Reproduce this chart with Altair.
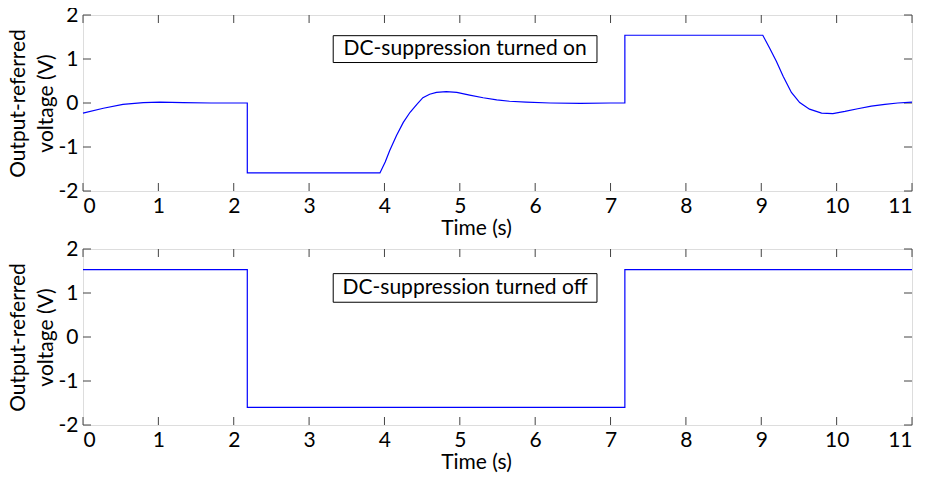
import altair as alt
import pandas as pd

# ---- data ----
top_t = [0, 0.27, 0.53, 0.8, 1.02, 1.33, 1.7, 2.17, 2.18, 2.18,
         3.94, 4.01, 4.07, 4.16, 4.25, 4.34, 4.43, 4.51, 4.6, 4.69, 4.82, 4.96,
         5.13, 5.31, 5.49, 5.66, 5.88, 6.2, 6.6, 7.0, 7.19, 7.19,
         9.02, 9.11, 9.2, 9.29, 9.4, 9.51, 9.64, 9.8, 9.95, 10.11, 10.28, 10.46,
         10.64, 10.81, 11.0]
top_v = [-0.23, -0.12, -0.03, 0.01, 0.02, 0.01, 0.0, 0.0, 0.0, -1.59,
         -1.59, -1.34, -1.08, -0.74, -0.44, -0.21, -0.03, 0.12, 0.2, 0.24, 0.26, 0.24,
         0.18, 0.12, 0.07, 0.04, 0.02, 0.0, -0.01, 0.0, 0.0, 1.54,
         1.54, 1.25, 0.95, 0.61, 0.24, 0.01, -0.14, -0.23, -0.24, -0.19, -0.13, -0.07,
         -0.03, 0.0, 0.02]

bot_t = [0, 2.18, 2.18, 7.19, 7.19, 11]
bot_v = [1.53, 1.53, -1.6, -1.6, 1.53, 1.53]

labels = ["DC-suppression turned on", "DC-suppression turned off"]
box_t = [3.32, 6.82]
box_v = [[0.92, 1.53], [0.79, 1.44]]
label_pos = [[5.07, 1.22], [5.07, 1.12]]

x_ticks = list(range(0, 12))
y_ticks = [-2, -1, 0, 1, 2]

W, H = 829, 176
FONT = "Lato"
FS = 21
TL = 8

xscale = alt.Scale(domain=[0, 11], nice=False, zero=False)
yscale = alt.Scale(domain=[-2, 2], nice=False, zero=False)


def panel(ts, vs, idx):
    df = pd.DataFrame({"t": ts, "v": vs, "i": list(range(len(ts)))})
    xaxis = alt.Axis(values=x_ticks, ticks=False, domain=False, grid=False,
                     labelFont=FONT, labelFontSize=FS, labelColor="black",
                     labelPadding=4, labelExpr="'' + datum.value",
                     title="Time (s)", titleFont=FONT,
                     titleFontSize=FS, titleFontWeight="normal", titleColor="black",
                     titlePadding=1, titleX=393)
    yaxis = alt.Axis(values=y_ticks, ticks=False, domain=False, grid=False,
                     labelFont=FONT, labelFontSize=FS, labelColor="black",
                     labelPadding=5, labelExpr="'' + datum.value",
                     title=["Output-referred", "voltage (V)"],
                     titleFont=FONT, titleFontSize=FS, titleFontWeight="normal",
                     titleColor="black", titleLineHeight=28, titlePadding=2)
    line = alt.Chart(df).mark_line(color="#0000ff", strokeWidth=1.2).encode(
        x=alt.X("t:Q", scale=xscale, axis=xaxis),
        y=alt.Y("v:Q", scale=yscale, axis=yaxis),
        order="i:Q",
    )
    bdf = pd.DataFrame({"t1": [box_t[0]], "t2": [box_t[1]],
                        "v1": [box_v[idx][0]], "v2": [box_v[idx][1]]})
    box = alt.Chart(bdf).mark_rect(fill="white", stroke="black", strokeWidth=1).encode(
        x="t1:Q", x2="t2:Q", y="v1:Q", y2="v2:Q")
    tdf = pd.DataFrame({"t": [label_pos[idx][0]], "v": [label_pos[idx][1]],
                        "s": [labels[idx]]})
    txt = alt.Chart(tdf).mark_text(font=FONT, fontSize=FS, color="black",
                                   align="center", baseline="middle").encode(
        x="t:Q", y="v:Q", text="s:N")
    xt = pd.DataFrame({"t": x_ticks})
    yt = pd.DataFrame({"v": y_ticks})
    tb = alt.Chart(xt).mark_rule(color="#444444", strokeWidth=1).encode(
        x="t:Q", y=alt.value(H), y2=alt.value(H - TL))
    tt = alt.Chart(xt).mark_rule(color="#444444", strokeWidth=1).encode(
        x="t:Q", y=alt.value(0), y2=alt.value(TL))
    tl = alt.Chart(yt).mark_rule(color="#444444", strokeWidth=1).encode(
        y="v:Q", x=alt.value(0), x2=alt.value(TL))
    tr = alt.Chart(yt).mark_rule(color="#444444", strokeWidth=1).encode(
        y="v:Q", x=alt.value(W), x2=alt.value(W - TL))
    return alt.layer(box, txt, tb, tt, tl, tr, line).properties(width=W, height=H)


top = panel(top_t, top_v, 0)
bot = panel(bot_t, bot_v, 1)

chart = alt.vconcat(top, bot, spacing=-2).properties(
    padding={"left": -2, "top": -5, "right": 0, "bottom": 0}
).configure_view(stroke="black", strokeWidth=1.5).configure_axis(
    titleLineHeight=28
).configure(background="white")

chart.save("out.html", embed_options={"renderer": "svg", "actions": False})
